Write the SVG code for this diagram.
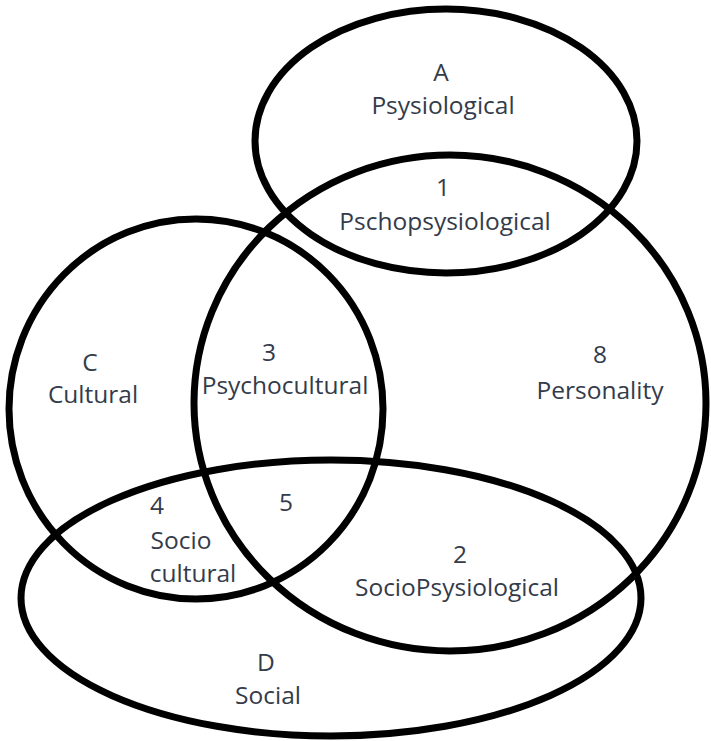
<svg xmlns="http://www.w3.org/2000/svg" width="711" height="741" viewBox="0 0 711 741">
<style>
.set{fill:none;stroke:#000;stroke-width:7}
text{font-family:"Open Sans","Liberation Sans",sans-serif;font-size:24.5px;fill:#343b4a;text-anchor:middle}
</style>
<rect width="711" height="741" fill="#fff"/>
<g id="connectors"></g>
<g id="setA"><ellipse class="set" cx="446" cy="141" rx="191" ry="132"/></g>
<g id="setB"><ellipse class="set" cx="450" cy="403" rx="256" ry="248"/></g>
<g id="setC"><ellipse class="set" cx="196" cy="409" rx="187" ry="190"/></g>
<g id="setD"><ellipse class="set" cx="331" cy="598" rx="310" ry="138"/></g>
<g id="labelA"><text x="441" y="81">A</text><text x="443" y="114">Psysiological</text></g>
<g id="label1"><text x="443" y="196">1</text><text x="445" y="230">Pschopsysiological</text></g>
<g id="labelC"><text x="90" y="371">C</text><text x="93" y="403">Cultural</text></g>
<g id="label3"><text x="269" y="361">3</text><text x="285" y="394">Psychocultural</text></g>
<g id="label8"><text x="600" y="363">8</text><text x="600" y="399">Personality</text></g>
<g id="label4"><text x="157" y="514">4</text><text x="181" y="549">Socio</text><text x="193" y="582">cultural</text></g>
<g id="label5"><text x="286" y="511">5</text></g>
<g id="label2"><text x="460" y="563">2</text><text x="457" y="596">SocioPsysiological</text></g>
<g id="labelD"><text x="266" y="671">D</text><text x="268" y="704">Social</text></g>
</svg>
